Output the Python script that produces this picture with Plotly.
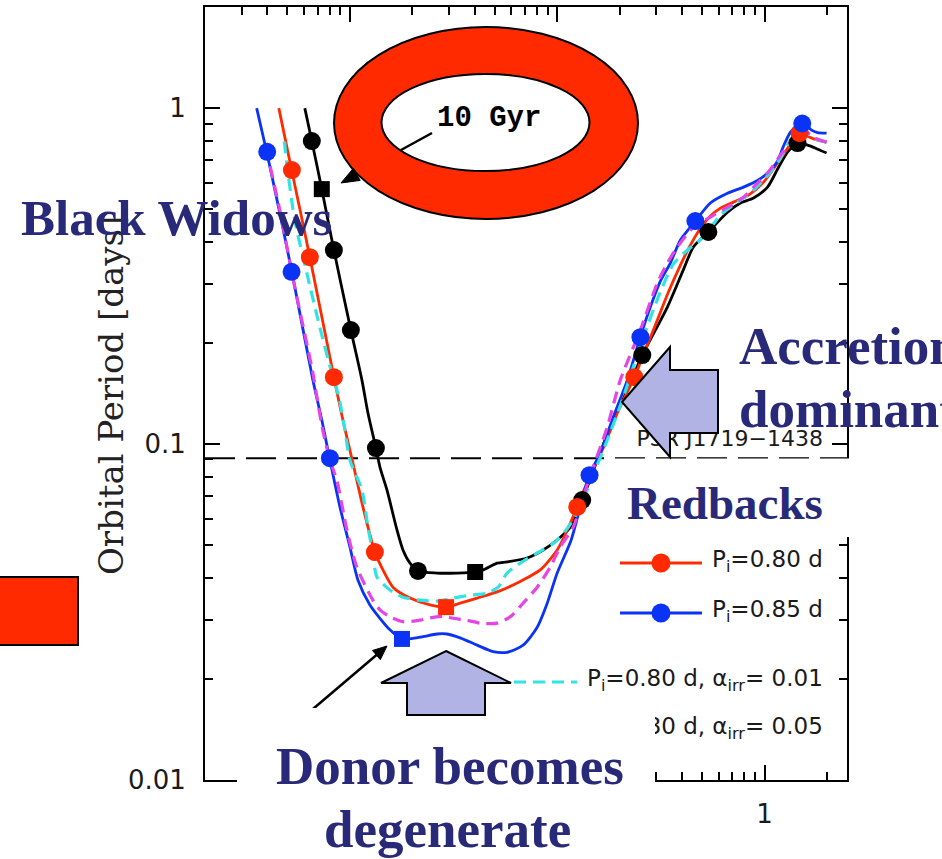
import math
import plotly.graph_objects as go

# ---------------------------------------------------------------
# Evolutionary tracks: donor mass [M_sun] vs orbital period [days]
# ---------------------------------------------------------------
blk_m = [1.993, 1.764, 1.613, 1.443, 1.292, 1.169, 1.034, 0.885, 0.766, 0.663,
         0.536, 0.454, 0.406, 0.340, 0.2574, 0.2179, 0.1803, 0.1561, 0.1320, 0.1156,
         0.100, 0.0856, 0.0716, 0.0573, 0.0513, 0.0439, 0.0402, 0.0329, 0.0263, 0.0213,
         0.0195, 0.01803, 0.01687, 0.01509, 0.01396, 0.01335, 0.01222, 0.01143, 0.01011,
         0.00837, 0.00732, 0.00655, 0.00606]
blk_p = [0.735, 0.760, 0.776, 0.787, 0.740, 0.667, 0.582, 0.540, 0.522, 0.490,
         0.428, 0.386, 0.330, 0.2557, 0.1840, 0.1448, 0.1123, 0.0896, 0.0681, 0.0566,
         0.0518, 0.0484, 0.0458, 0.0446, 0.0442, 0.0422, 0.0416, 0.0413, 0.0413, 0.0419,
         0.0442, 0.0484, 0.0555, 0.0730, 0.0854, 0.0973, 0.1237, 0.1550, 0.2184,
         0.378, 0.574, 0.798, 1.0]

red_m = [1.993, 1.803, 1.613, 1.492, 1.381, 1.292, 1.155, 0.989, 0.837, 0.708,
         0.613, 0.548, 0.491, 0.439, 0.393, 0.344, 0.2975, 0.2661, 0.2355, 0.1950,
         0.1668, 0.1443, 0.1249, 0.1130, 0.100, 0.0828, 0.0641, 0.0513, 0.0411, 0.0340,
         0.0291, 0.02435, 0.0195, 0.01613, 0.01443, 0.01320, 0.01156, 0.01034, 0.00925,
         0.00837, 0.00641, 0.00525, 0.00454]
red_p = [0.792, 0.803, 0.825, 0.848, 0.814, 0.760, 0.686, 0.602, 0.551, 0.525,
         0.504, 0.477, 0.439, 0.391, 0.341, 0.2835, 0.2260, 0.1905, 0.1582, 0.1237,
         0.0973, 0.0808, 0.0650, 0.0562, 0.0484, 0.0422, 0.0386, 0.0363, 0.0348, 0.0336,
         0.0327, 0.0332, 0.0348, 0.0375, 0.0422, 0.0477, 0.0650, 0.0878, 0.1179,
         0.1582, 0.360, 0.649, 1.0]

blu_m = [1.993, 1.803, 1.687, 1.596, 1.509, 1.335, 1.235, 1.155, 1.034, 0.935,
         0.792, 0.663, 0.548, 0.464, 0.393, 0.3515, 0.3145, 0.2813, 0.2518, 0.2179,
         0.1864, 0.1613, 0.1427, 0.1292, 0.1168, 0.100, 0.0895, 0.0801, 0.0685, 0.0573,
         0.0491, 0.0411, 0.0340, 0.0294, 0.0263, 0.02253, 0.02015, 0.01783, 0.01560,
         0.01396, 0.01249, 0.01093, 0.0100, 0.00895, 0.00801, 0.00732, 0.00663, 0.00525,
         0.00459, 0.00397, 0.00355]
blu_p = [0.843, 0.846, 0.860, 0.890, 0.909, 0.848, 0.771, 0.695, 0.641, 0.611,
         0.582, 0.558, 0.522, 0.461, 0.405, 0.3457, 0.3056, 0.2557, 0.2083, 0.1550,
         0.1203, 0.0940, 0.0808, 0.0650, 0.0518, 0.0413, 0.0336, 0.0285, 0.0252, 0.0240,
         0.0241, 0.0252, 0.0265, 0.0272, 0.0272, 0.0267, 0.0264, 0.0263, 0.0280,
         0.0303, 0.0332, 0.0394, 0.0494, 0.0650, 0.0896, 0.1179, 0.1550, 0.3250,
         0.487, 0.740, 1.0]

cyn_m = [1.993, 1.706, 1.526, 1.335, 1.195, 1.069, 0.885, 0.741, 0.613, 0.507,
         0.425, 0.3634, 0.3145, 0.2574, 0.2061, 0.1744, 0.1476, 0.1292, 0.1130, 0.0978,
         0.0801, 0.0663, 0.0573, 0.0519, 0.0459, 0.0380, 0.0315, 0.0263, 0.0218, 0.01803,
         0.0156, 0.0135, 0.01291, 0.01222, 0.01143, 0.0100, 0.00946, 0.00885, 0.00818,
         0.00716, 0.0062, 0.00542, 0.00496, 0.0048]
cyn_p = [0.792, 0.814, 0.860, 0.803, 0.710, 0.645, 0.570, 0.525, 0.480, 0.413,
         0.378, 0.3433, 0.2835, 0.2040, 0.1352, 0.1028, 0.0797, 0.0650, 0.0566, 0.0511,
         0.0474, 0.0442, 0.0413, 0.0375, 0.0360, 0.0355, 0.0348, 0.0341, 0.0343, 0.0350,
         0.0368, 0.0402, 0.0474, 0.0566, 0.0730, 0.0896, 0.110, 0.138, 0.1627,
         0.2229, 0.3228, 0.464, 0.686, 0.831]

mag_m = [1.993, 1.706, 1.526, 1.335, 1.195, 1.034, 0.925, 0.792, 0.663, 0.548,
         0.454, 0.380, 0.340, 0.3041, 0.2518, 0.2015, 0.1744, 0.1492, 0.1335, 0.1195,
         0.1034, 0.0925, 0.0801, 0.0685, 0.0593, 0.0513, 0.0425, 0.0367, 0.0315, 0.0281,
         0.0252, 0.0218, 0.01803, 0.0156, 0.01396, 0.01291, 0.0108, 0.00967, 0.00865,
         0.00801, 0.0074, 0.00693, 0.00663, 0.0053, 0.00459, 0.00411]
mag_p = [0.792, 0.820, 0.872, 0.792, 0.725, 0.641, 0.598, 0.543, 0.507, 0.474,
         0.442, 0.386, 0.3457, 0.3014, 0.2184, 0.1550, 0.1123, 0.0854, 0.0696, 0.0566,
         0.0494, 0.0430, 0.0375, 0.0336, 0.0306, 0.0293, 0.0293, 0.0299, 0.0303, 0.0307,
         0.0305, 0.0299, 0.0296, 0.0306, 0.0321, 0.0343, 0.0430, 0.0555, 0.0781,
         0.0896, 0.110, 0.138, 0.1627, 0.314, 0.497, 0.677]

# Time markers along the solid tracks (circles) and onset of degeneracy (squares)
blk_dot_m = [1.443, 0.536, 0.2574, 0.1320, 0.0213, 0.01335, 0.01011, 0.00837, 0.00655]
blk_dot_p = [0.787, 0.428, 0.1840, 0.0681, 0.0419, 0.0973, 0.2184, 0.378, 0.798]
blk_sq_m = [0.0402, 0.00732]
blk_sq_p = [0.0416, 0.574]
red_dot_m = [1.476, 0.2355, 0.1249, 0.0132, 0.00837, 0.00641, 0.00525]
red_dot_p = [0.843, 0.1582, 0.0650, 0.0477, 0.1582, 0.360, 0.654]
red_sq_m = [0.0291]
red_sq_p = [0.0327]
blu_dot_m = [1.521, 0.464, 0.252, 0.1432, 0.00801, 0.00523, 0.00399]
blu_dot_p = [0.900, 0.461, 0.208, 0.0808, 0.0908, 0.3257, 0.741]
blu_sq_m = [0.01783]
blu_sq_p = [0.0263]

# PSR J1719-1438 orbital period [days]
psr_period = 0.0907

x_ticks = [0.01, 0.1, 1]
x_labels = ["0.01", "0.1", "1"]
y_ticks = [0.01, 0.1, 1]
y_labels = ["0.01", "0.1", "1"]

legend_labels = ["P<sub>i</sub>=0.80 d", "P<sub>i</sub>=0.85 d",
                 "P<sub>i</sub>=0.80 d, \u03b1<sub>irr</sub>= 0.01",
                 "P<sub>i</sub>=0.80 d, \u03b1<sub>irr</sub>= 0.05"]

# ---------------------------------------------------------------
# Page geometry (pixels) and helpers mapping page pixels -> paper
# ---------------------------------------------------------------
W, H = 942, 859
L, R, T, B = 205, 847, 7, 780


def fx(px):
    return (px - L) / (R - L)


def fy(py):
    return (B - py) / (B - T)


NAVY = "#29297A"
RED = "#FF2A00"
BLUE = "#0A33F5"
CYAN = "#33E3E3"
MAG = "#E445E4"
LAV = "#B0B3E3"
INK = "#1a1a1a"

fig = go.Figure()

# horizontal reference line at the PSR J1719-1438 period
fig.add_trace(go.Scatter(x=[0.002, 2.5], y=[psr_period, psr_period], mode="lines",
                         line=dict(color="black", width=2, dash="30px,11px"),
                         hoverinfo="skip"))

tracks = [
    (blk_m, blk_p, "black", "solid", 2.8),
    (red_m, red_p, RED, "solid", 2.8),
    (blu_m, blu_p, BLUE, "solid", 2.8),
    (cyn_m, cyn_p, CYAN, "12px,7px", 3.2),
    (mag_m, mag_p, MAG, "12px,7px", 3.2),
]
for m, p, col, dash, w in tracks:
    fig.add_trace(go.Scatter(x=m, y=p, mode="lines",
                             line=dict(color=col, width=w, dash=dash,
                                       shape="spline", smoothing=0.7),
                             hoverinfo="skip"))

markers = [
    (blk_dot_m, blk_dot_p, "black", "circle", 18),
    (blk_sq_m, blk_sq_p, "black", "square", 16),
    (red_dot_m, red_dot_p, RED, "circle", 18),
    (red_sq_m, red_sq_p, RED, "square", 16),
    (blu_dot_m, blu_dot_p, BLUE, "circle", 18),
    (blu_sq_m, blu_sq_p, BLUE, "square", 16),
]
for m, p, col, sym, size in markers:
    fig.add_trace(go.Scatter(x=m, y=p, mode="markers",
                             marker=dict(color=col, symbol=sym, size=size,
                                         line=dict(width=0)),
                             hoverinfo="skip"))

# ---- in-frame key and source label (overlay axes in frame fractions) ----
key_rows = [
    (RED, "solid", True, 620, 702, 563, 712, legend_labels[0]),
    (BLUE, "solid", True, 620, 702, 613, 712, legend_labels[1]),
    (CYAN, "12px,7px", False, 495, 577, 682, 587, legend_labels[2]),
    (MAG, "12px,7px", False, 495, 577, 730, 587, legend_labels[3]),
]
for col, dash, dot, xa, xb, yy, xt, label in key_rows:
    fig.add_trace(go.Scatter(x=[fx(xa), fx(xb)], y=[fy(yy), fy(yy)], mode="lines",
                             line=dict(color=col, width=3, dash=dash),
                             xaxis="x2", yaxis="y2", hoverinfo="skip"))
    if dot:
        fig.add_trace(go.Scatter(x=[fx((xa + xb) / 2)], y=[fy(yy)], mode="markers",
                                 marker=dict(color=col, size=19),
                                 xaxis="x2", yaxis="y2", hoverinfo="skip"))
    fig.add_trace(go.Scatter(x=[fx(xt)], y=[fy(yy - 2)], mode="text", text=[label],
                             textposition="middle right",
                             textfont=dict(family="DejaVu Sans", size=23, color=INK),
                             xaxis="x2", yaxis="y2", hoverinfo="skip"))

fig.add_trace(go.Scatter(x=[fx(823)], y=[fy(440)], mode="text",
                         text=["PSR J1719\u22121438"], textposition="middle left",
                         textfont=dict(family="DejaVu Sans", size=22, color=INK),
                         xaxis="x2", yaxis="y2", hoverinfo="skip"))

# ---------------------------------------------------------------
# Axes
# ---------------------------------------------------------------
axis_style = dict(
    type="log", showline=True, linecolor="black", linewidth=2, mirror="ticks",
    ticks="inside", ticklen=15, tickwidth=2, tickcolor="black",
    showgrid=False, zeroline=False, automargin=False,
    tickfont=dict(family="DejaVu Sans", size=26, color=INK),
    minor=dict(ticks="inside", ticklen=8, tickwidth=1.5, tickcolor="black",
               dtick="D1", showgrid=False),
)

fig.update_layout(
    width=W, height=H,
    margin=dict(l=L, r=W - R, t=T, b=H - B, pad=0),
    paper_bgcolor="white", plot_bgcolor="white",
    showlegend=False,
    xaxis=dict(axis_style, range=[math.log10(0.002), math.log10(2.5)],
               tickmode="array", tickvals=x_ticks, ticktext=x_labels,
               ticklabelstandoff=10),
    yaxis=dict(axis_style, range=[math.log10(0.01), math.log10(2.0)],
               tickmode="array", tickvals=y_ticks, ticktext=y_labels,
               ticklabelstandoff=12),
    xaxis2=dict(overlaying="x", anchor="y2", range=[0, 1], visible=False),
    yaxis2=dict(overlaying="y", anchor="x2", range=[0, 1], visible=False),
)

# ---------------------------------------------------------------
# Slide overlays: boxes, ring callout, arrows
# ---------------------------------------------------------------


def rect(x0, y0, x1, y1, **kw):
    return dict(type="rect", xref="paper", yref="paper", layer="above",
                x0=fx(x0), x1=fx(x1), y0=fy(y1), y1=fy(y0), **kw)


def ellipse(cx, cy, rx, ry, **kw):
    return dict(type="circle", xref="paper", yref="paper", layer="above",
                x0=fx(cx - rx), x1=fx(cx + rx), y0=fy(cy + ry), y1=fy(cy - ry), **kw)


def poly(pts, **kw):
    path = "M " + " L ".join(f"{fx(a):.5f},{fy(b):.5f}" for a, b in pts) + " Z"
    return dict(type="path", xref="paper", yref="paper", layer="above", path=path, **kw)


def seg(a, b, **kw):
    return dict(type="line", xref="paper", yref="paper", layer="above",
                x0=fx(a[0]), y0=fy(a[1]), x1=fx(b[0]), y1=fy(b[1]), **kw)


no_line = dict(width=0)
shapes = [
    # pointer to the blue square (tail hidden by the text box below)
    seg((300, 720), (380, 652), line=dict(color="black", width=2.5)),
    poly([(387, 646), (380.3, 659.7), (372.5, 650.5)], fillcolor="black",
         line=dict(color="black", width=1)),
    # text boxes
    rect(610, 458.6, 870, 537, fillcolor="white", line=no_line),
    rect(237, 708, 655, 870, fillcolor="white", line=no_line),
    # red square at left edge
    rect(-3, 577, 78, 645, fillcolor=RED, line=dict(color="black", width=2)),
    # ring callout around the 10 Gyr label
    ellipse(486, 123, 152, 96, fillcolor=RED, line=dict(color="black", width=2)),
    ellipse(485.5, 122.5, 104, 48.5, fillcolor="white", line=dict(color="black", width=2)),
    seg((432, 133), (401, 150), line=dict(color="black", width=2.5)),
    poly([(341, 183), (360.2, 180.4), (353.4, 168.2)], fillcolor="black",
         line=dict(color="black", width=1)),
    # block arrows
    poly([(622, 402), (670, 347), (670, 370), (718, 370), (718, 433), (670, 433), (670, 457)],
         fillcolor=LAV, line=dict(color="black", width=2)),
    poly([(446, 651), (511, 683), (485, 683), (485, 715), (407, 715), (407, 683), (381, 683)],
         fillcolor=LAV, line=dict(color="black", width=2)),
]
fig.update_layout(shapes=shapes)


def note(text, x, y, size, font="Liberation Serif", color=NAVY, weight="bold",
         xanchor="center", angle=0):
    return dict(text=text, x=fx(x), y=fy(y), xref="paper", yref="paper",
                showarrow=False, xanchor=xanchor, yanchor="middle", textangle=angle,
                font=dict(family=font, size=size, color=color, weight=weight))


fig.update_layout(annotations=[
    note("Orbital Period [days]", 111, 396, 34, font="DejaVu Serif", color="#222222",
         weight="normal", angle=-90),
    note("10 Gyr", 489, 118, 29, font="Liberation Mono", color="black"),
    note("Black Widows", 176, 218, 51),
    note("Accretion", 737, 346, 53, xanchor="left"),
    note("dominant", 737, 409, 53, xanchor="left"),
    note("Redbacks", 725, 503, 47),
    note("Donor becomes", 450, 766, 53),
    note("degenerate", 447, 829, 53),
])

fig.write_html("out.html")
